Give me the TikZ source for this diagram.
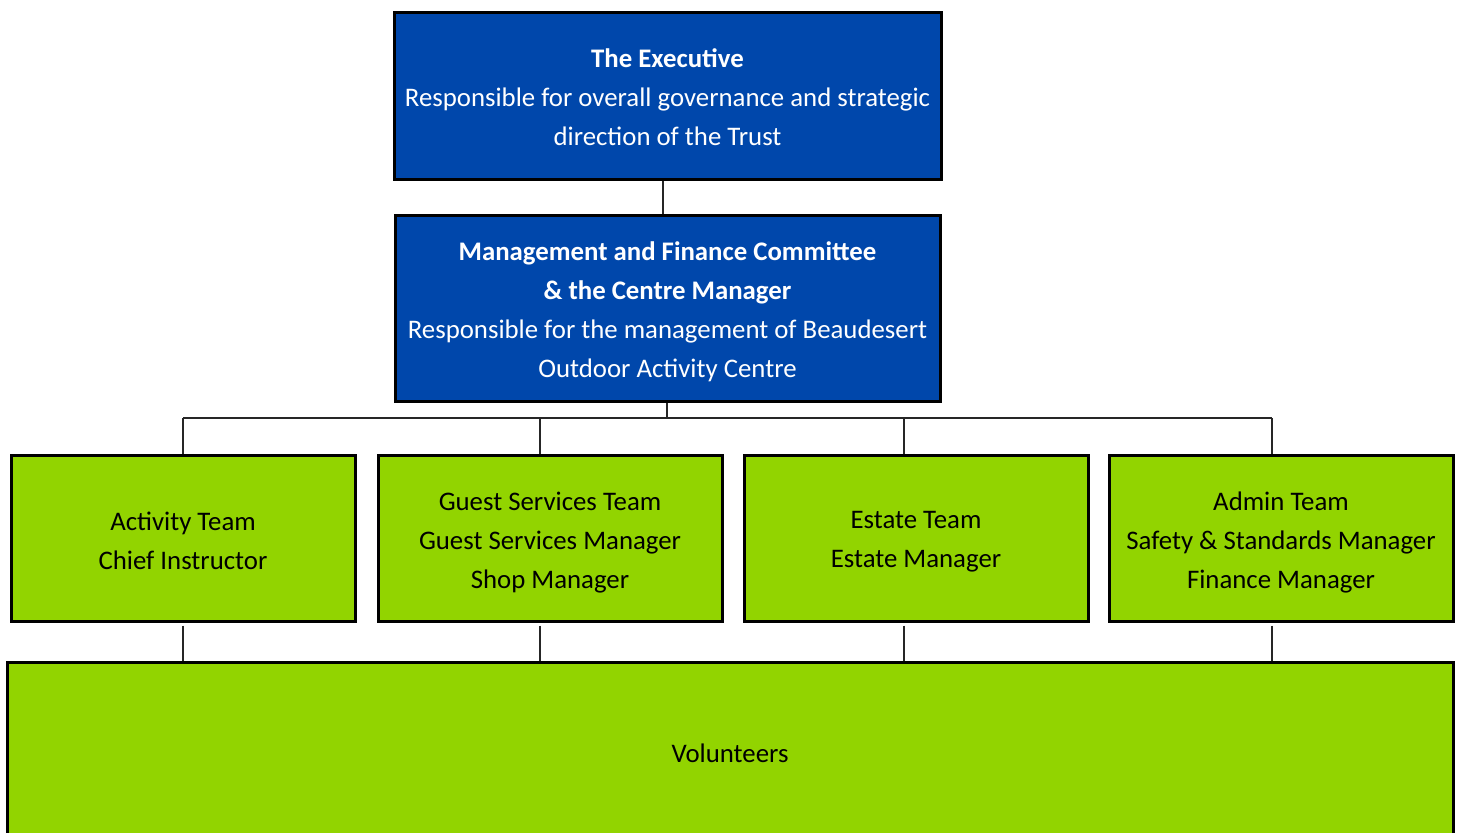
\documentclass[tikz,border=0pt]{standalone}
\usepackage{fontspec}
\setmainfont{Carlito}
\definecolor{execblue}{HTML}{0047AB}
\definecolor{teamgreen}{HTML}{92D400}
\newcommand\topgap[1]{\rule{0pt}{#1}}
\tikzset{
  bluebox/.style={draw=black, line width=1.5pt, fill=execblue, text=white, align=center,
    inner sep=0pt, font=\fontsize{13.4}{19.5}\selectfont},
  greenbox/.style={draw=black, line width=1.5pt, fill=teamgreen, text=black, align=center,
    inner sep=0pt, minimum width=172pt, minimum height=83pt, font=\fontsize{13.4}{19.5}\selectfont},
  link/.style={draw=black!85, line width=1pt}
}
\begin{document}
\begin{tikzpicture}[x=0.5pt, y=-0.5pt]
            \useasboundingbox (0,0) rectangle (1460,832);
            \clip (0,0) rectangle (1460,832);
            \node [bluebox, minimum width=273.5pt, minimum height=83.5pt] (exec) at (667.5,95.5)
                {\topgap{11.5pt}\textbf{The Executive}\\Responsible for overall governance and strategic\\direction of the Trust};
            \node [bluebox, minimum width=272.5pt, minimum height=93pt] (mgmt) at (667.5,308)
                {\topgap{13.5pt}\textbf{Management and Finance Committee}\\\textbf{\& the Centre Manager}\\Responsible for the management of Beaudesert\\Outdoor Activity Centre};
            \node [greenbox] (activity) at (183,538) {\topgap{12.5pt}Activity Team\\Chief Instructor};
            \node [greenbox] (guest) at (550,538) {\topgap{13.5pt}Guest Services Team\\Guest Services Manager\\Shop Manager};
            \node [greenbox] (estate) at (916,538) {\topgap{12.5pt}Estate Team\\Estate Manager};
            \node [greenbox] (admin) at (1281,538) {\topgap{13.5pt}Admin Team\\Safety \& Standards Manager\\Finance Manager};
            \node [greenbox, minimum width=723pt, minimum height=130pt] (vol) at (730,792) {};
            \node [font=\fontsize{13.4}{19.5}\selectfont] (voltext) at (730,753) {Volunteers};
            \coordinate (bar) at (667,418);
            \coordinate (t1) at (183,418);
            \coordinate (t2) at (540,418);
            \coordinate (t3) at (904,418);
            \coordinate (t4) at (1272,418);
            \draw [link] ([xshift=-2.5pt]exec.south) -- ([xshift=-2.5pt]mgmt.north);
            \draw [link] (mgmt.south -| bar) -- (bar);
            \draw [link] (t1) -- (t4);
            \draw [link] (t1) -- (t1 |- activity.north);
            \draw [link] (t2) -- (t2 |- guest.north);
            \draw [link] (t3) -- (t3 |- estate.north);
            \draw [link] (t4) -- (t4 |- admin.north);
            \draw [link] ([yshift=-1.5pt]t1 |- activity.south) -- (t1 |- vol.north);
            \draw [link] ([yshift=-1.5pt]t2 |- guest.south) -- (t2 |- vol.north);
            \draw [link] ([yshift=-1.5pt]t3 |- estate.south) -- (t3 |- vol.north);
            \draw [link] ([yshift=-1.5pt]t4 |- admin.south) -- (t4 |- vol.north);
\end{tikzpicture}
\end{document}
